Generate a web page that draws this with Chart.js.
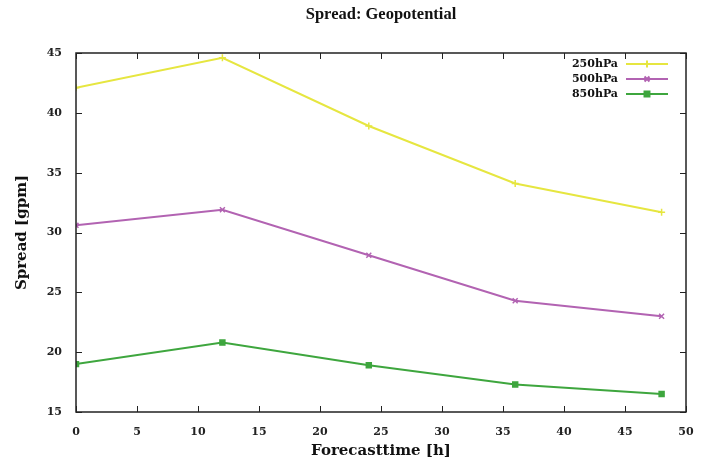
<!DOCTYPE html>
<html>
<head>
<meta charset="utf-8">
<script src="https://cdn.jsdelivr.net/npm/chart.js@4.4.1/dist/chart.umd.min.js"></script>
<style>
  html, body { margin: 0; padding: 0; background: #fff; }
  #wrap { width: 708px; height: 460px; }
</style>
</head>
<body>
<div id="wrap"><canvas id="chart" width="708" height="460"></canvas></div>
<script>
// forecast hours and spread values
const hours = [0, 12, 24, 36, 48];
const spread250 = [42.1, 44.6, 38.9, 34.1, 31.7];
const spread500 = [30.6, 31.9, 28.1, 24.3, 23.0];
const spread850 = [19.0, 20.8, 18.9, 17.3, 16.5];
const xTicks = [0, 5, 10, 15, 20, 25, 30, 35, 40, 45, 50];
const yTicks = [15, 20, 25, 30, 35, 40, 45];

const serif = "'DejaVu Serif', 'Liberation Serif', serif";

function toPoints(vals) {
  return hours.map((h, i) => ({ x: h, y: vals[i] }));
}

// gnuplot-like frame: box round the plot, ticks pointing inwards on all sides
const framePlugin = {
  id: "frame",
  afterDraw(chart) {
    const { ctx, chartArea: a, scales } = chart;
    ctx.save();
    ctx.strokeStyle = "#222";
    ctx.lineWidth = 1.5;
    ctx.strokeRect(a.left, a.top, a.right - a.left, a.bottom - a.top);
    ctx.lineWidth = 1;
    xTicks.forEach((t) => {
      const px = Math.round(scales.x.getPixelForValue(t)) + 0.5;
      ctx.beginPath();
      ctx.moveTo(px, a.bottom); ctx.lineTo(px, a.bottom - 6);
      ctx.moveTo(px, a.top); ctx.lineTo(px, a.top + 6);
      ctx.stroke();
    });
    yTicks.forEach((t) => {
      const py = Math.round(scales.y.getPixelForValue(t)) + 0.5;
      ctx.beginPath();
      ctx.moveTo(a.left, py); ctx.lineTo(a.left + 6, py);
      ctx.moveTo(a.right, py); ctx.lineTo(a.right - 6, py);
      ctx.stroke();
    });

    // title
    ctx.fillStyle = "#111";
    ctx.font = "bold 16.5px 'Liberation Serif', serif";
    ctx.textAlign = "center";
    ctx.textBaseline = "middle";
    ctx.fillText("Spread: Geopotential", (a.left + a.right) / 2, 15);

    // legend, text then sample line with marker
    ctx.font = "bold 11px " + serif;
    chart.data.datasets.forEach((ds, i) => {
      const y = 64 + i * 15;
      ctx.textAlign = "right";
      ctx.fillStyle = "#111";
      ctx.fillText(ds.label, 618, y);
      ctx.strokeStyle = ds.borderColor;
      ctx.lineWidth = 2;
      ctx.beginPath();
      ctx.moveTo(626, y); ctx.lineTo(668, y);
      ctx.stroke();
      Chart.helpers.drawPoint(ctx, {
        pointStyle: ds.pointStyle, radius: ds.pointRadius, rotation: 0,
        borderWidth: 1.5
      }, 647, y);
      ctx.fillStyle = ds.borderColor;
      if (ds.pointStyle === "rect") ctx.fillRect(644, y - 3, 6, 6);
    });
    ctx.restore();
  }
};

function series(label, vals, color, style) {
  return {
    label: label,
    data: toPoints(vals),
    borderColor: color,
    backgroundColor: color,
    borderWidth: 2,
    pointStyle: style,
    pointRadius: 3.5,
    pointBorderWidth: 1.5,
    tension: 0
  };
}

new Chart(document.getElementById("chart"), {
  type: "line",
  data: {
    datasets: [
      series("250hPa", spread250, "#e6e640", "cross"),
      series("500hPa", spread500, "#b263b2", "crossRot"),
      series("850hPa", spread850, "#3ea63e", "rect")
    ]
  },
  plugins: [framePlugin],
  options: {
    responsive: false,
    animation: false,
    layout: { padding: { top: 53, right: 22, left: 0, bottom: 0 } },
    plugins: { legend: { display: false }, title: { display: false }, tooltip: { enabled: false } },
    scales: {
      x: {
        type: "linear",
        min: 0, max: 50,
        grid: { display: false },
        border: { display: false },
        afterBuildTicks: (s) => { s.ticks = xTicks.map((v) => ({ value: v })); },
        afterFit: (s) => { s.height = 48; },
        ticks: { color: "#222", padding: 6, font: { family: serif, size: 11, weight: "bold" } },
        title: {
          display: true, text: "Forecasttime [h]", color: "#111",
          font: { family: serif, size: 15, weight: "bold" }, padding: { top: 2, bottom: 0 }
        }
      },
      y: {
        min: 15, max: 45,
        grid: { display: false },
        border: { display: false },
        afterBuildTicks: (s) => { s.ticks = yTicks.map((v) => ({ value: v })); },
        afterFit: (s) => { s.width = 76; },
        ticks: { color: "#222", padding: 6, font: { family: serif, size: 11, weight: "bold" } },
        title: {
          display: true, text: "Spread [gpm]", color: "#111",
          font: { family: serif, size: 15, weight: "bold" }, padding: { top: 13, bottom: 0 }
        }
      }
    }
  }
});
</script>
</body>
</html>
